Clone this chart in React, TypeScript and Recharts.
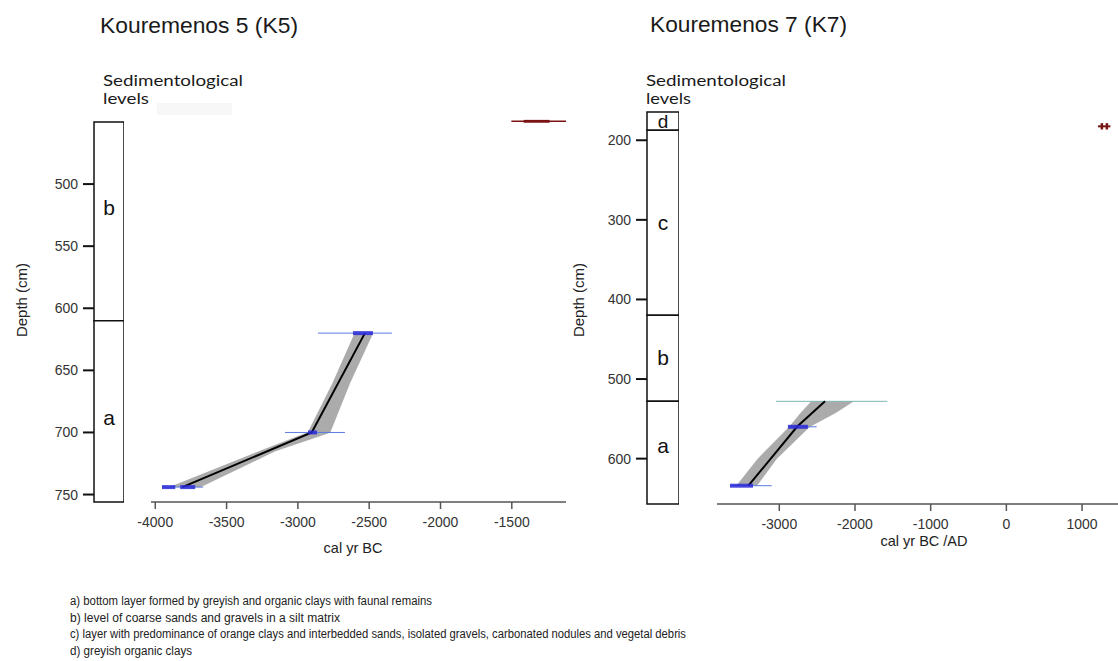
import React from "react";
import {
  ComposedChart,
  XAxis,
  YAxis,
  Line,
  Area,
  ReferenceArea,
  ReferenceDot,
} from "recharts";

const SANS = "'Liberation Sans', Arial, sans-serif";

// ---- K5 ----
const k5AgeTicks = [-4000, -3500, -3000, -2500, -2000, -1500];
const k5DepthTicks = [500, 550, 600, 650, 700, 750];
const k5Levels = ["b", "a"];
const k5LevelTop = [450, 610];
const k5LevelBottom = [610, 756];
const k5LevelLabelDepth = [519, 688];

const k5ModelDepth = [620, 700, 744];
const k5ModelAge = [-2530, -2903, -3810];
const k5BandDepth = [620, 660, 700, 715, 744];
const k5BandLow = [-2600, -2754, -2929, -3265, -3895];
const k5BandHigh = [-2474, -2635, -2775, -3160, -3685];
const k5DateDepth = [620, 700, 744];
const k5DateLow = [-2859, -3090, -3953];
const k5DateHigh = [-2341, -2670, -3664];
const k5BlobDepth = [620, 700, 744, 744];
const k5BlobLow = [-2614, -2929, -3953, -3825];
const k5BlobHigh = [-2474, -2866, -3860, -3720];
// outlier date (maroon) at the top of the core
const k5OutDepth = 449.5;
const k5OutRange = [-1503, -1120];
const k5OutCore = [-1417, -1235];

// ---- K7 ----
const k7AgeTicks = [-3000, -2000, -1000, 0, 1000];
const k7DepthTicks = [200, 300, 400, 500, 600];
const k7Levels = ["d", "c", "b", "a"];
const k7LevelTop = [164.5, 187.5, 420, 528];
const k7LevelBottom = [187.5, 420, 528, 657];
const k7LevelLabelDepth = [176, 304, 473, 584];

const k7ModelDepth = [528, 560, 634];
const k7ModelAge = [-2396, -2766, -3408];
const k7BandDepth = [528, 542, 560, 600, 634];
const k7BandLow = [-2572, -2710, -2865, -3281, -3563];
const k7BandHigh = [-2022, -2250, -2601, -3035, -3298];
const k7DateDepth = [528, 560, 634];
const k7DateLow = [-3044, -2886, -3651];
const k7DateHigh = [-1571, -2506, -3100];
const k7BlobDepth = [560, 634];
const k7BlobLow = [-2886, -3651];
const k7BlobHigh = [-2622, -3347];
const k7OutDepth = 182.5;
const k7OutRange = [1210, 1375];
const k7OutCross = [1262, 1328];

const footnotes = [
  "a) bottom layer formed by greyish and organic clays with faunal remains",
  "b) level of coarse sands and gravels in a silt matrix",
  "c) layer with predominance of orange clays and interbedded sands, isolated gravels, carbonated nodules and vegetal debris",
  "d) greyish organic clays",
];
const footnoteLength = [362, 270, 616, 122];

type Pt = { depth: number; age: number };
const seg = (depth: number, lo: number, hi: number): Pt[] => [
  { depth, age: lo },
  { depth, age: hi },
];
const vseg = (depth: number, age: number, half: number): Pt[] => [
  { depth: depth - half, age },
  { depth: depth + half, age },
];

interface ColumnProps {
  left: number;
  top: number;
  width: number;
  height: number;
  axisWidth: number;
  mTop: number;
  mBottom: number;
  domain: [number, number];
  ticks: number[];
  names: string[];
  tops: number[];
  bottoms: number[];
  labelDepths: number[];
}

function LevelColumn(p: ColumnProps) {
  const rows = p.names.map((n, i) => ({ depth: p.labelDepths[i], name: n }));
  return (
    <div style={{ position: "absolute", left: p.left, top: p.top }}>
      <ComposedChart
        layout="vertical"
        width={p.width}
        height={p.height}
        data={rows}
        margin={{ top: p.mTop, right: 0, bottom: p.mBottom, left: 0 }}
      >
        <XAxis type="number" hide domain={[0, 1]} allowDataOverflow />
        <YAxis
          type="number"
          dataKey="depth"
          domain={p.domain}
          allowDataOverflow
          ticks={p.ticks}
          interval={0}
          width={p.axisWidth}
          axisLine={false}
          tickSize={11}
          tickMargin={5}
          tickLine={{ stroke: "#111", strokeWidth: 2 }}
          tick={{ fontSize: 14, fill: "#333", fontFamily: SANS }}
        />
        {p.names.map((n, i) => (
          <ReferenceArea
            key={n}
            x1={0}
            x2={1}
            y1={p.tops[i]}
            y2={p.bottoms[i]}
            fill="#fff"
            fillOpacity={1}
            stroke="#111"
            strokeWidth={1.5}
            ifOverflow="visible"
          />
        ))}
        {p.names.map((n, i) => (
          <ReferenceDot
            key={"lab" + n}
            x={0.5}
            y={p.labelDepths[i]}
            r={0}
            fill="none"
            stroke="none"
            label={{
              value: n,
              position: "center",
              fontSize: n === "d" ? 19 : 21,
              fill: "#111",
              fontFamily: SANS,
            }}
          />
        ))}
      </ComposedChart>
    </div>
  );
}

interface AgeProps {
  left: number;
  top: number;
  width: number;
  height: number;
  mTop: number;
  mLeft: number;
  xDomain: [number, number];
  yDomain: [number, number];
  xTicks: number[];
  band: { depth: number; range: [number, number] }[];
  model: Pt[];
  dates: Pt[][];
  dateColors: string[];
  blobs: Pt[][];
  marks: { pts: Pt[]; w: number }[];
}

function AgeChart(p: AgeProps) {
  return (
    <div style={{ position: "absolute", left: p.left, top: p.top }}>
      <ComposedChart
        layout="vertical"
        width={p.width}
        height={p.height}
        margin={{ top: p.mTop, right: 0, bottom: 0, left: p.mLeft }}
      >
        <XAxis
          type="number"
          domain={p.xDomain}
          allowDataOverflow
          ticks={p.xTicks}
          interval={0}
          height={40}
          tickSize={7}
          tickMargin={8}
          axisLine={{ stroke: "#555", strokeWidth: 1.5 }}
          tickLine={{ stroke: "#555", strokeWidth: 1.5 }}
          tick={{ fontSize: 14, fill: "#333", fontFamily: SANS }}
        />
        <YAxis type="number" dataKey="depth" hide domain={p.yDomain} allowDataOverflow />
        <Area
          data={p.band}
          dataKey="range"
          type="linear"
          stroke="#9a9a9a"
          strokeWidth={0.5}
          fill="#ababab"
          fillOpacity={1}
          isAnimationActive={false}
        />
        {p.dates.map((d, i) => (
          <Line
            key={"date" + i}
            data={d}
            dataKey="age"
            stroke={p.dateColors[i]}
            strokeWidth={1}
            dot={false}
            activeDot={false}
            isAnimationActive={false}
          />
        ))}
        <Line
          data={p.model}
          dataKey="age"
          stroke="#000"
          strokeWidth={2}
          dot={false}
          activeDot={false}
          isAnimationActive={false}
        />
        {p.blobs.map((d, i) => (
          <Line
            key={"blob" + i}
            data={d}
            dataKey="age"
            stroke="#2a2ad8"
            strokeOpacity={0.85}
            strokeWidth={4}
            dot={false}
            activeDot={false}
            isAnimationActive={false}
          />
        ))}
        {p.marks.map((m, i) => (
          <Line
            key={"mark" + i}
            data={m.pts}
            dataKey="age"
            stroke="#7a1414"
            strokeWidth={m.w}
            dot={false}
            activeDot={false}
            isAnimationActive={false}
          />
        ))}
      </ComposedChart>
    </div>
  );
}

export default function App() {
  const k5Band = k5BandDepth.map((d, i) => ({
    depth: d,
    range: [k5BandLow[i], k5BandHigh[i]] as [number, number],
  }));
  const k5Model = k5ModelDepth.map((d, i) => ({ depth: d, age: k5ModelAge[i] }));
  const k5Dates = k5DateDepth.map((d, i) => seg(d, k5DateLow[i], k5DateHigh[i]));
  const k5Blobs = k5BlobDepth.map((d, i) => seg(d, k5BlobLow[i], k5BlobHigh[i]));

  const k7Band = k7BandDepth.map((d, i) => ({
    depth: d,
    range: [k7BandLow[i], k7BandHigh[i]] as [number, number],
  }));
  const k7Model = k7ModelDepth.map((d, i) => ({ depth: d, age: k7ModelAge[i] }));
  const k7Dates = k7DateDepth.map((d, i) => seg(d, k7DateLow[i], k7DateHigh[i]));
  const k7Blobs = k7BlobDepth.map((d, i) => seg(d, k7BlobLow[i], k7BlobHigh[i]));

  return (
    <div
      style={{
        position: "absolute",
        left: 0,
        top: 0,
        width: 1118,
        height: 661,
        background: "#fff",
        overflow: "hidden",
      }}
    >
      <LevelColumn
        left={30}
        top={112}
        width={94}
        height={400}
        axisWidth={64}
        mTop={7.5}
        mBottom={10}
        domain={[448, 756]}
        ticks={k5DepthTicks}
        names={k5Levels}
        tops={k5LevelTop}
        bottoms={k5LevelBottom}
        labelDepths={k5LevelLabelDepth}
      />
      <AgeChart
        left={131}
        top={112}
        width={435}
        height={430}
        mTop={7.5}
        mLeft={20}
        xDomain={[-4030, -1120]}
        yDomain={[448, 756]}
        xTicks={k5AgeTicks}
        band={k5Band}
        model={k5Model}
        dates={k5Dates}
        dateColors={["#5b7be0", "#5b7be0", "#5b7be0"]}
        blobs={k5Blobs}
        marks={[
          { pts: seg(k5OutDepth, k5OutRange[0], k5OutRange[1]), w: 1.5 },
          { pts: seg(k5OutDepth, k5OutCore[0], k5OutCore[1]), w: 3 },
        ]}
      />
      <LevelColumn
        left={590}
        top={102}
        width={89}
        height={410}
        axisWidth={57}
        mTop={10}
        mBottom={8}
        domain={[164.5, 657]}
        ticks={k7DepthTicks}
        names={k7Levels}
        tops={k7LevelTop}
        bottoms={k7LevelBottom}
        labelDepths={k7LevelLabelDepth}
      />
      <AgeChart
        left={697}
        top={102}
        width={421}
        height={442}
        mTop={10}
        mLeft={20}
        xDomain={[-3823, 1475]}
        yDomain={[164.5, 657]}
        xTicks={k7AgeTicks}
        band={k7Band}
        model={k7Model}
        dates={k7Dates}
        dateColors={["#7fb8b0", "#5b7be0", "#5b7be0"]}
        blobs={k7Blobs}
        marks={[
          { pts: seg(k7OutDepth, k7OutRange[0], k7OutRange[1]), w: 2 },
          { pts: vseg(k7OutDepth, k7OutCross[0], 4), w: 2.5 },
          { pts: vseg(k7OutDepth, k7OutCross[1], 4), w: 2.5 },
        ]}
      />
      <svg
        width={1118}
        height={661}
        style={{ position: "absolute", left: 0, top: 0, pointerEvents: "none" }}
      >
        <rect x={157} y={103} width={75} height={12} fill="#f7f7f7" />
        <g fontFamily={SANS} fill="#1a1a1a">
          <text x={100} y={33} fontSize={21.5} textLength={198} lengthAdjust="spacingAndGlyphs">
            Kouremenos 5 (K5)
          </text>
          <text x={650} y={32} fontSize={21.5} textLength={197} lengthAdjust="spacingAndGlyphs">
            Kouremenos 7 (K7)
          </text>
        </g>
        <g fontFamily="Lato, 'Open Sans', sans-serif" fill="#1a1a1a" fontSize={15.5}>
          <text x={103} y={86} textLength={140} lengthAdjust="spacingAndGlyphs">Sedimentological</text>
          <text x={103} y={104} textLength={46} lengthAdjust="spacingAndGlyphs">levels</text>
          <text x={646} y={86} textLength={140} lengthAdjust="spacingAndGlyphs">Sedimentological</text>
          <text x={646} y={104} textLength={45} lengthAdjust="spacingAndGlyphs">levels</text>
        </g>
        <g fontFamily={SANS} fill="#222" fontSize={15}>
          <text x={21} y={300} textAnchor="middle" dominantBaseline="central" transform="rotate(-90 21 300)">
            Depth (cm)
          </text>
          <text x={578} y={300} textAnchor="middle" dominantBaseline="central" transform="rotate(-90 578 300)">
            Depth (cm)
          </text>
          <text x={353} y={553} textAnchor="middle" fontSize={14.5}>cal yr BC</text>
          <text x={924} y={546} textAnchor="middle" fontSize={14.5}>cal yr BC /AD</text>
        </g>
        <g fontFamily={SANS} fill="#222" fontSize={12}>
          {footnotes.map((t, i) => (
            <text
              key={i}
              x={70}
              y={605 + i * 16.5}
              textLength={footnoteLength[i]}
              lengthAdjust="spacingAndGlyphs"
            >
              {t}
            </text>
          ))}
        </g>
      </svg>
    </div>
  );
}
